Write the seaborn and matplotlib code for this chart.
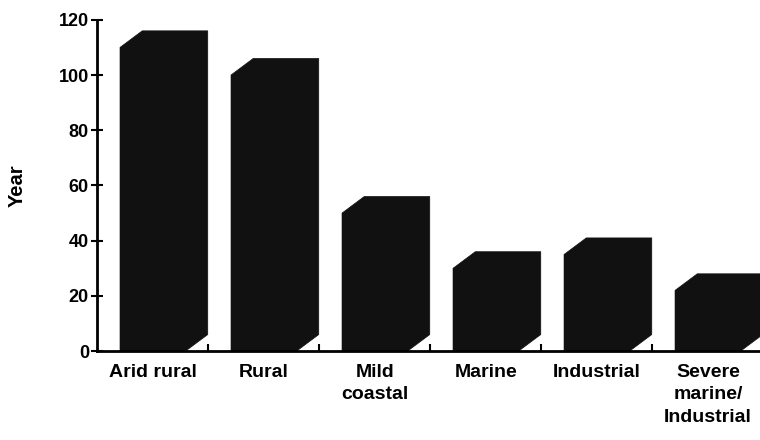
import matplotlib
matplotlib.use("Agg")
import matplotlib.pyplot as plt
from matplotlib.patches import Polygon
import seaborn as sns
import pandas as pd

categories = ["Arid rural", "Rural", "Mild\ncoastal", "Marine", "Industrial",
              "Severe\nmarine/\nIndustrial"]
years = [110, 100, 50, 30, 35, 22]
y_ticks = [0, 20, 40, 60, 80, 100, 120]

sns.set_theme(style="white")
plt.rcParams['font.family'] = ['Liberation Sans', 'DejaVu Sans']
plt.rcParams['text.color'] = 'black'
plt.rcParams['axes.labelcolor'] = 'black'
plt.rcParams['xtick.color'] = 'black'
plt.rcParams['ytick.color'] = 'black'

df = pd.DataFrame({"category": categories, "year": years})

fig = plt.figure(figsize=(7.6, 4.4), dpi=100)
ax = fig.add_axes([0.128, 0.202, 0.872, 0.753])

sns.barplot(data=df, x="category", y="year", color="#111111", saturation=1,
            width=0.59, ax=ax, edgecolor="#111111", linewidth=0.5)

# 3D depth (derived from each bar's own geometry)
dx, dy = 0.2, 6.0
for p in list(ax.patches):
    x0, w, h = p.get_x(), p.get_width(), p.get_height()
    poly = Polygon([(x0, 0), (x0, h), (x0 + dx, h + dy), (x0 + w + dx, h + dy),
                    (x0 + w + dx, dy), (x0 + w, 0)], closed=True,
                   facecolor="#111111", edgecolor="#111111", lw=0.5, zorder=1.5)
    ax.add_patch(poly)

ax.set_xlim(-0.5, 5.47)
ax.set_ylim(0, 120)
ax.set_yticks(y_ticks)
ax.set_xticks(range(len(categories)))
ax.set_xticks([i + 0.5 for i in range(len(categories) - 1)], minor=True)

for s in ["top", "right"]:
    ax.spines[s].set_visible(False)
for s in ["left", "bottom"]:
    ax.spines[s].set_color("black")
    ax.spines[s].set_linewidth(2)
    ax.spines[s].set_zorder(3)

ax.tick_params(axis="x", which="major", length=0, pad=9, labelsize=14)
ax.tick_params(axis="x", which="minor", direction="in", length=5, width=1.5,
               color="black", bottom=True)
ax.tick_params(axis="y", direction="inout", length=8, width=1.5, color="black",
               left=True, pad=2, labelsize=13)
for lab in ax.get_xticklabels():
    lab.set_fontweight("bold")
    lab.set_linespacing(1.45)
for lab in ax.get_yticklabels():
    lab.set_fontweight("bold")

ax.set_xlabel("")
ax.set_ylabel("Year", fontsize=14.5, fontweight="bold")
ax.yaxis.set_label_coords(-0.107, 0.50)

fig.savefig("out.png", dpi=100)
